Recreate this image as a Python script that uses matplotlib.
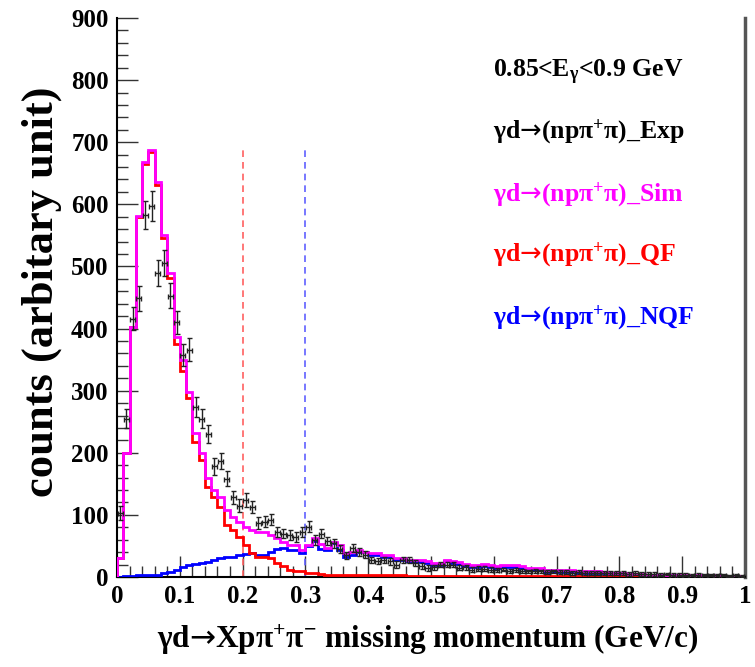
import numpy as np
import matplotlib
matplotlib.use("Agg")
import matplotlib.pyplot as plt
from matplotlib.ticker import MultipleLocator

# ---------------- data (bin width 0.01 GeV/c, 100 bins from 0 to 1) ----------------
bin_edges = np.round(np.arange(0, 1.0001, 0.01), 3)

sim = [30, 200, 403, 581, 668, 688, 636, 551, 489, 387,
       349, 298, 232, 200, 160, 140, 128, 108, 97, 89,
       81, 76, 73, 73, 68, 62, 57, 52, 52, 43,
       52, 62, 53, 46, 57, 52, 38, 41, 43, 41,
       38, 38, 36, 36, 30, 30, 28, 27, 27, 25,
       22, 22, 28, 26, 24, 21, 19, 19, 21, 19,
       18, 19, 19, 19, 17, 14, 14, 14, 11, 11,
       11, 11, 11, 9, 9, 9, 9, 8, 7, 6,
       6, 5, 5, 5, 4, 4, 4, 4, 4, 3,
       3, 3, 3, 3, 3, 2, 2, 2, 2, 2]

qf = [30, 200, 402, 579, 665, 684, 631, 545, 481, 375,
      331, 288, 218, 188, 145, 129, 113, 83, 75, 65,
      51, 38, 32, 32, 30, 22, 17, 12, 9, 9,
      6, 6, 5, 4, 4, 3, 3, 3, 3, 3,
      3, 3, 3, 3, 3, 3, 2, 2, 2, 2,
      2, 2, 2, 2, 2, 2, 2, 2, 2, 2,
      2, 2, 2, 2, 2, 2, 2, 2, 2, 2,
      2, 2, 2, 2, 2, 2, 2, 2, 2, 2,
      2, 2, 1, 1, 1, 1, 1, 1, 1, 1,
      1, 1, 1, 1, 1, 1, 1, 1, 1, 1]

nqf = [0, 1, 2, 3, 3, 4, 4, 6, 8, 12,
       16, 19, 21, 23, 24, 27, 30, 32, 33, 35,
       37, 38, 36, 36, 40, 45, 46, 43, 43, 38,
       50, 58, 45, 44, 54, 44, 33, 36, 40, 40,
       35, 35, 33, 33, 27, 27, 25, 24, 24, 22,
       19, 19, 25, 23, 21, 18, 16, 16, 18, 16,
       15, 16, 16, 16, 14, 11, 11, 11, 8, 8,
       8, 8, 8, 6, 6, 6, 6, 6, 5, 4,
       4, 4, 4, 4, 3, 3, 3, 3, 3, 2,
       2, 2, 2, 2, 2, 1, 1, 1, 1, 1]

exp = [103, 255, 416, 449, 583, 597, 489, 505, 453, 410,
       357, 366, 274, 255, 230, 178, 187, 158, 128, 115,
       124, 113, 87, 89, 92, 73, 70, 68, 65, 73,
       81, 60, 70, 58, 54, 45, 35, 47, 40, 36,
       28, 26, 27, 25, 20, 28, 28, 22, 18, 15,
       16, 20, 20, 20, 15, 16, 12, 13, 13, 12,
       11, 12, 10, 11, 10, 9, 10, 9, 8, 9,
       8, 8, 7, 8, 7, 7, 6, 7, 6, 6,
       6, 5, 6, 5, 5, 5, 4, 5, 4, 4,
       4, 3, 4, 3, 3, 3, 3, 2, 3, 2]

exp_err = [12, 15, 19, 20, 23, 24, 21, 21, 20, 19,
           18, 18, 16, 15, 15, 13, 13, 12, 11, 11,
           11, 10, 9, 9, 9, 8, 8, 8, 8, 8,
           9, 8, 8, 7, 7, 7, 6, 6, 6, 6,
           5, 5, 5, 5, 5, 5, 5, 5, 5, 5,
           4, 4, 4, 4, 4, 4, 4, 4, 4, 4,
           3, 3, 3, 3, 3, 3, 3, 3, 3, 3,
           3, 3, 3, 3, 3, 3, 3, 3, 3, 3,
           3, 3, 3, 3, 3, 3, 2, 2, 2, 2,
           2, 2, 2, 2, 2, 2, 2, 2, 2, 2]

cut_qf = 0.2
cut_nqf = 0.3
cut_top = 690

ARROW = "$\\mathsf{\u2192}$"
legend_lines = [
    ("0.85<E$_{\u03b3}$<0.9 GeV", "black"),
    ("\u03b3d" + ARROW + "(np\u03c0$^{+}$\u03c0)_Exp", "black"),
    ("\u03b3d" + ARROW + "(np\u03c0$^{+}$\u03c0)_Sim", "#ff00ff"),
    ("\u03b3d" + ARROW + "(np\u03c0$^{+}$\u03c0)_QF", "#ff0000"),
    ("\u03b3d" + ARROW + "(np\u03c0$^{+}$\u03c0)_NQF", "#0000ff"),
]
xlabel = "\u03b3d" + ARROW + "Xp\u03c0$^{+}$\u03c0$^{-}$ missing momentum (GeV/c)"
ylabel = "counts (arbitary unit)"
xtick_labels = ["0", "0.1", "0.2", "0.3", "0.4", "0.5", "0.6", "0.7", "0.8", "0.9", "1"]

# ---------------- style ----------------
plt.rcParams["font.family"] = ["Liberation Serif", "DejaVu Serif"]
plt.rcParams["font.weight"] = "bold"
plt.rcParams["mathtext.fontset"] = "custom"
plt.rcParams["mathtext.rm"] = "Liberation Serif:bold"
plt.rcParams["mathtext.it"] = "Liberation Serif:bold"
plt.rcParams["mathtext.bf"] = "Liberation Serif:bold"
plt.rcParams["mathtext.sf"] = "DejaVu Sans:normal"
plt.rcParams["mathtext.default"] = "bf"

fig = plt.figure(figsize=(7.55, 6.67), dpi=100)
ax = fig.add_axes([117 / 755, 1 - 577 / 667, 628 / 755, 559 / 667])

edges = np.array(bin_edges)
centers = 0.5 * (edges[:-1] + edges[1:])

ax.stairs(nqf, edges, color="#0000ff", lw=2.0, zorder=3)
ax.stairs(qf, edges, color="#ff0000", lw=2.0, zorder=4)
ax.stairs(sim, edges, color="#ff00ff", lw=2.0, zorder=5)

ax.errorbar(centers, exp, yerr=exp_err, xerr=0.004, fmt="none",
            ecolor="#222222", elinewidth=1.0, capsize=1.8, capthick=1.0, zorder=6)

ax.plot([cut_qf, cut_qf], [0, cut_top], color="#ff6060", lw=1.2, ls=(0, (4, 3)), zorder=2)
ax.plot([cut_nqf, cut_nqf], [0, cut_top], color="#6060ff", lw=1.2, ls=(0, (4, 3)), zorder=2)

ax.set_xlim(0, 1)
ax.set_ylim(0, 900)
ax.xaxis.set_minor_locator(MultipleLocator(0.02))
ax.yaxis.set_major_locator(MultipleLocator(100))
ax.yaxis.set_minor_locator(MultipleLocator(20))
ax.set_xticks(np.round(np.arange(0, 1.01, 0.1), 1))
ax.set_xticklabels(xtick_labels)
ax.tick_params(axis="both", which="major", direction="in", length=15, width=1.0,
               labelsize=18, color="#333333", pad=6)
ax.tick_params(axis="both", which="minor", direction="in", length=8, width=1.0, color="#333333")
ax.tick_params(axis="x", which="both", top=False)
ax.tick_params(axis="y", which="both", right=False)
for lab in ax.get_xticklabels() + ax.get_yticklabels():
    lab.set_fontweight("bold")

ax.spines["top"].set_visible(False)
ax.spines["left"].set_linewidth(1.5)
ax.spines["bottom"].set_linewidth(1.5)
ax.spines["right"].set_linewidth(2.5)
ax.spines["right"].set_color("#555555")

fig.text(428 / 755, 1 - 640 / 667, xlabel, ha="center", va="center", fontsize=22.5, fontweight="bold")
fig.text(42 / 755, 1 - 292 / 667, ylabel, ha="center", va="center", rotation=90, fontsize=32, fontweight="bold")

ys = [72, 132, 195, 255, 318]
for (txt, col), yp in zip(legend_lines, ys):
    fig.text(493 / 755, 1 - yp / 667, txt, ha="left", va="center", fontsize=18.5,
             color=col, fontweight="bold")

fig.savefig("out.png", dpi=100)
